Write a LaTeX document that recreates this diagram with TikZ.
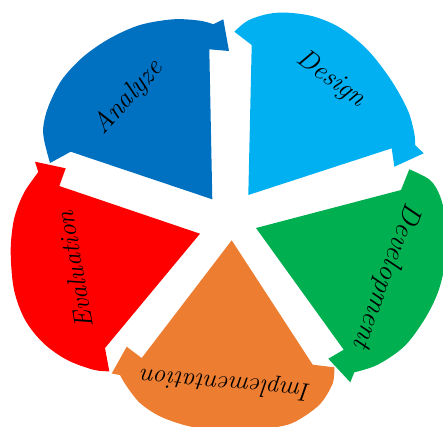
\documentclass[tikz,border=0pt]{standalone}
\definecolor{cAnalyze}{HTML}{0070C0}
\definecolor{cDesign}{HTML}{00B0F0}
\definecolor{cDevel}{HTML}{00B050}
\definecolor{cImpl}{HTML}{ED7D31}
\definecolor{cEval}{HTML}{FF0000}
\tikzset{
  seg/.style={draw=none},
  arcpts/.style={smooth, tension=0.55},
  lbl/.style={inner sep=0pt, text=black},
}
\newcommand{\lblfont}[1]{\fontsize{#1}{#1}\selectfont\itshape}
\begin{document}
\begin{tikzpicture}[x=1pt,y=-1pt]
\useasboundingbox (0,0) rectangle (443,426);
\clip (0,0) rectangle (443,426);
% Analyze
\fill[seg, cAnalyze] (212.3,199.3) -- (209.3,49.3) -- (229,51) -- (223.3,19.3) -- (213.3,24.3)
  -- plot[arcpts] coordinates {(213.3,24.3) (200,20.7) (173.3,19.3) (140,25) (110,38.3) (83.3,56.7) (61.7,80) (48.3,106.7) (43.3,126.7) (44.3,141) (50,163)}
  -- (70.7,151.7) -- cycle;
% Design
\fill[seg, cDesign] (248.3,195) -- (251.7,45) -- (234.3,31.7)
  -- plot[arcpts] coordinates {(234.3,31.7) (247.7,20.7) (267.7,14) (287.7,12.7) (314.3,16.7) (341,28.3) (367.7,50) (391,80) (407.7,110) (414.3,133.3) (415,145)}
  -- (423.7,153.3) -- (394.3,166.7) -- (391.7,148.3) -- cycle;
% Development
\fill[seg, cDevel] (256,228) -- (401,190) -- (409.3,169.3)
  -- plot[arcpts] coordinates {(409.3,169.3) (430,180) (440,196) (446,220) (447.5,242) (445,265) (437.7,293) (424.3,319.7) (404.3,346.3) (377.7,364.7) (354.3,372.3)}
  -- (350.3,382.3) -- (328.3,358.7) -- (343.7,349.7) -- cycle;
% Implementation
\fill[seg, cImpl] (231.7,240.3) -- (312.7,364.7) -- (334.3,367.3)
  -- plot[arcpts] coordinates {(334.3,367.3) (332.7,383.3) (321,403) (304.3,416.3) (287.7,424.7) (262,429) (236,430) (210,429) (186.7,425.7) (160,416.3) (140,403) (126.7,386.3) (120,375)}
  -- (111.7,373.5) -- (126.7,346.7) -- (141.7,358) -- cycle;
% Evaluation
\fill[seg, cEval] (200,233.7) -- (105,348) -- (109.3,371.3)
  -- plot[arcpts] coordinates {(109.3,371.3) (93.3,369.7) (66.7,359.7) (43.3,343) (25,319.7) (14,289.7) (10.7,253) (12.7,226.3) (17,209) (25,191) (38.3,172)}
  -- (35,161.7) -- (65.7,168.3) -- (59.3,186) -- cycle;
% Labels
\node[lbl, rotate=48] (tA) at (128.5,97.5) {\lblfont{27}Analyze};
\node[lbl, rotate=-36] (tD) at (331,79) {\lblfont{27}Design};
\node[lbl, rotate=-110] (tV) at (386.5,276) {\lblfont{28}Development};
\node[lbl, rotate=175] (tI) at (226,383) {\lblfont{25.5}Implementation};
\node[lbl, rotate=100] (tE) at (74.5,270) {\lblfont{26}Evaluation};
\end{tikzpicture}
\end{document}
